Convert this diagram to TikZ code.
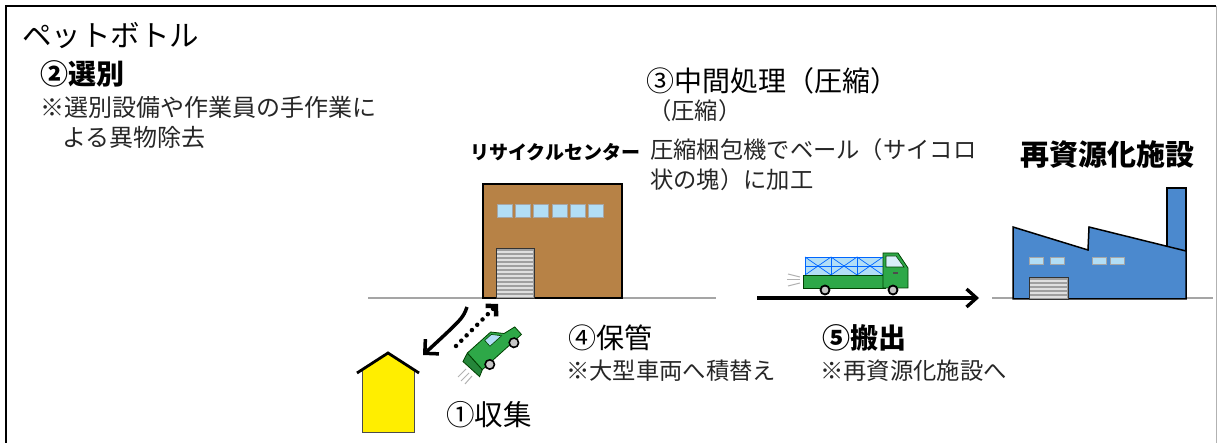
\documentclass[tikz,border=0pt]{standalone}
\usepackage{fontspec}
\newfontfamily\jp{Noto Sans CJK JP}
\usetikzlibrary{arrows.meta}

\definecolor{brownwall}{RGB}{183,130,70}
\definecolor{factblue}{RGB}{75,137,206}
\definecolor{truckgreen}{RGB}{46,168,72}
\definecolor{winblue}{RGB}{178,222,246}
\definecolor{groundgray}{RGB}{165,165,165}
\definecolor{houseyellow}{RGB}{255,238,0}

\tikzset{
  title/.style={font=\jp\fontsize{29.5}{33}\selectfont, anchor=base west, inner sep=0pt},
  stephead/.style={font=\jp\bfseries\fontsize{28}{32}\selectfont, anchor=base west, inner sep=0pt},
  stepname/.style={font=\jp\fontsize{28}{32}\selectfont, anchor=base west, inner sep=0pt},
  note/.style={font=\jp\fontsize{23.3}{27}\selectfont, anchor=base west, inner sep=0pt, text=black!85},
  ground/.style={groundgray, line width=1.2pt},
  win/.style={fill=winblue, draw=gray!70, line width=0.6pt},
  shutter/.style={fill=gray!75, draw=black!80, line width=0.8pt},
  slat/.style={gray!25, line width=1.3pt},
}

\begin{document}
\begin{tikzpicture}[x=1pt, y=-1pt]
\useasboundingbox (0,0) rectangle (1218,443);

% frame
\draw[line width=2.5pt] (6,443) -- (6,6) -- (1216,6);
\draw[gray!60, line width=1pt] (1216,6) -- (1216,443);

% ground lines
\draw[ground] (368,298) -- (716,298);
\draw[ground] (992,298) -- (1213,298);

% recycling centre
\draw[fill=brownwall, line width=1.5pt] (483,298) rectangle (622,184);
\foreach \i in {0,...,5}
  \draw[win] ({497+\i*18.3},204) rectangle +(15,13);
\draw[shutter] (496,248) rectangle (534,298);
\foreach \y in {252,256,...,296}
  \draw[slat] (497,\y) -- (533,\y);

% house
\fill[houseyellow] (362,370) -- (388,354) -- (414,370) -- (414,432) -- (362,432) -- cycle;
\draw[black!70, line width=1pt] (362,370) -- (362,432) -- (414,432) -- (414,370);
\draw[line width=2.8pt] (357,373) -- (388,353) -- (419,373);

% packer car
\begin{scope}[shift={(493,348)}, rotate=42, scale=1.12]
  \draw[fill=truckgreen!80!black, draw=green!25!black, line width=0.8pt]
    (-28,-9) -- (-20,-12) -- (-20,8) -- (-26,11) -- cycle;
  \draw[fill=truckgreen, draw=green!25!black, line width=0.8pt]
    (-20,-12) -- (8,-12) -- (16,-3) -- (27,-1) -- (27,8) -- (-20,8) -- cycle;
  \draw[fill=winblue, draw=green!25!black, line width=0.6pt]
    (-1,-10) -- (7,-10) -- (13,-3) -- (-1,-3) -- cycle;
  \draw[fill=gray!45, line width=1.6pt] (-12,9) circle (4.2);
  \draw[fill=gray!45, line width=1.6pt] (17,9) circle (4.2);
\end{scope}
\draw[gray!60, line width=1pt] (458,377) -- (466,369);
\draw[gray!60, line width=1pt] (461,381) -- (469,373);
\draw[gray!60, line width=1pt] (465,384) -- (472,376);

% collection arrows
\coordinate (cin) at (467,307);
\coordinate (house) at (423,355);
\coordinate (car) at (456,346);
\coordinate (cout) at (498,304);
\draw[line width=3.5pt, -{Straight Barb[length=10pt,width=20pt]}]
  (cin) .. controls (463,318) .. (house);
\draw[line width=4.5pt, line cap=round, dash pattern=on 0pt off 7.5pt,
  -{Straight Barb[length=7pt,width=15pt]}] (car) -- (cout);

% truck
\draw[fill=winblue, draw=blue!60!cyan, line width=0.8pt] (805,257) rectangle (883,275);
\foreach \i in {0,1,2} {
  \draw[blue!60!cyan, line width=0.7pt] ({805+\i*26},257) -- ({831+\i*26},275);
  \draw[blue!60!cyan, line width=0.7pt] ({805+\i*26},275) -- ({831+\i*26},257);
  \draw[blue!60!cyan, line width=0.7pt] ({831+\i*26},257) -- ({831+\i*26},275);
}
\draw[blue!60!cyan, line width=0.7pt] (805,266) -- (883,266);
\draw[fill=truckgreen, draw=green!25!black, line width=0.8pt] (803,275) rectangle (885,288);
\draw[fill=truckgreen, draw=green!25!black, line width=0.8pt]
  (883,253) -- (898,253) -- (908,268) -- (908,288) -- (883,288) -- cycle;
\draw[fill=winblue!50!white, draw=green!25!black, line width=0.6pt]
  (886,256) -- (896,256) -- (904,267) -- (886,267) -- cycle;
\draw[black!70, line width=1.2pt] (893,273) -- (898,273);
\draw[fill=gray!45, line width=1.8pt] (825,290) circle (4.5);
\draw[fill=gray!45, line width=1.8pt] (893,290) circle (4.5);
\draw[gray!60, line width=1pt] (788,274) -- (800,277);
\draw[gray!60, line width=1pt] (787,280) -- (800,280);
\draw[gray!60, line width=1pt] (788,286) -- (800,283);

% shipping arrow
\coordinate (tstart) at (757,298);
\coordinate (tend) at (979,298);
\draw[line width=3.3pt, -{Straight Barb[length=10pt,width=18pt]}] (tstart) -- (tend);

% recycling plant
\draw[fill=factblue, line width=1.5pt] (1167,246) -- (1167,188) -- (1186,188) -- (1186,252);
\draw[fill=factblue, line width=1.5pt]
  (1013,299) -- (1013,227) -- (1088,250) -- (1089,227) -- (1186,251) -- (1186,299) -- cycle;
\foreach \x in {1029,1050,1092,1110}
  \draw[win] (\x,257) rectangle +(14,7);
\draw[shutter] (1029,277) rectangle (1068,299);
\foreach \y in {281,285,...,297}
  \draw[slat] (1030,\y) -- (1067,\y);

% labels
\node[title] (pet) at (22,47) {ペットボトル};
\node[stephead] (s2) at (40,85) {②選別};
\node[note, font=\jp\fontsize{24}{28}\selectfont] (s2a) at (40,117) {※選別設備や作業員の手作業に};
\node[note, font=\jp\fontsize{24}{28}\selectfont] (s2b) at (62,147) {よる異物除去};

\node[stepname] (s3) at (646,92) {③中間処理（圧縮）};
\node[note] (s3a) at (648,120) {（圧縮）};
\node[note] (s3b) at (650,159) {圧縮梱包機でベール（サイコロ};
\node[note] (s3c) at (650,189) {状の塊）に加工};

\node[font=\jp\bfseries\fontsize{19}{23}\selectfont, anchor=base west, inner sep=0pt]
  (rc) at (470,160) {リサイクルセンター};
\node[stephead, font=\jp\bfseries\fontsize{29}{33}\selectfont] (plant) at (1020,166) {再資源化施設};

\node[stepname] (s4) at (568,349) {④保管};
\node[note] (s4a) at (566,380) {※大型車両へ積替え};
\node[stepname, font=\jp\fontsize{28.5}{32}\selectfont] (s1) at (446,425) {①収集};
\node[stephead] (s5) at (822,349) {⑤搬出};
\node[note] (s5a) at (820,380) {※再資源化施設へ};
\end{tikzpicture}
\end{document}
